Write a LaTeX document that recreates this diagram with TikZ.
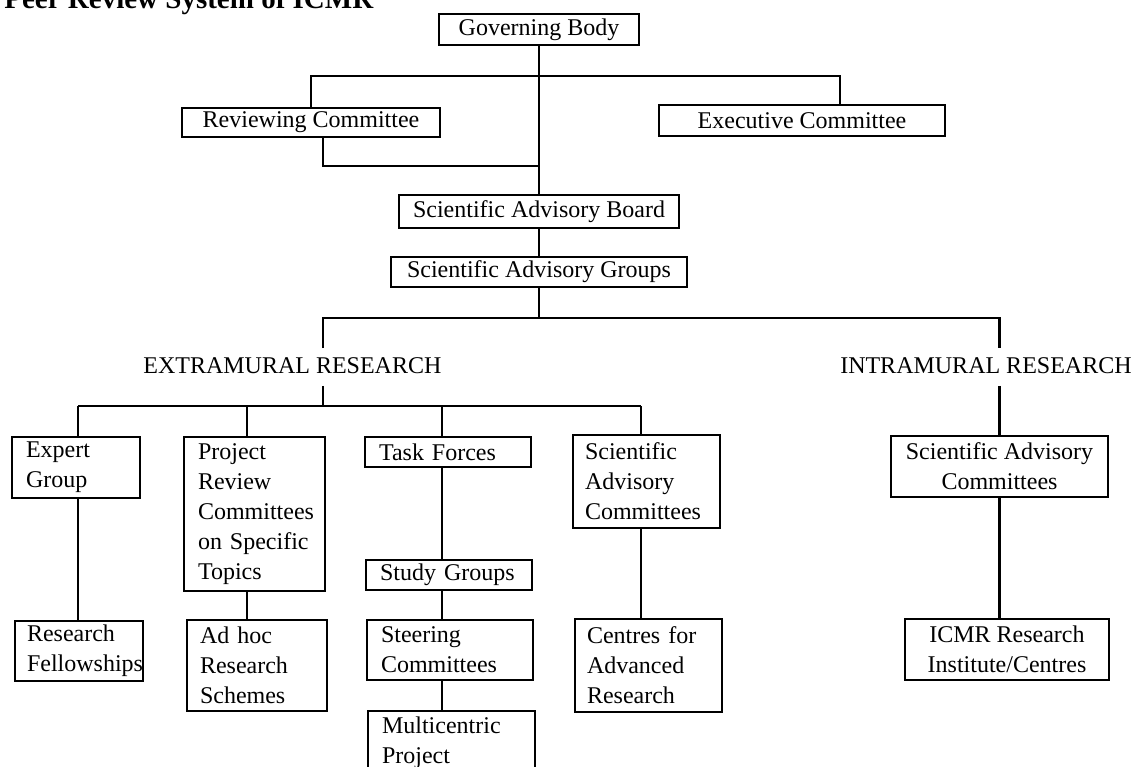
\documentclass[tikz,border=0pt]{standalone}
\usepackage{fontspec}
\setmainfont{Liberation Serif}
\begin{document}
\begin{tikzpicture}[x=0.5pt,y=-0.5pt]
\tikzset{
  box/.style={draw, line width=1pt, inner xsep=7pt, inner ysep=0pt, font=\fontsize{12}{15}\selectfont},
  lbox/.style={box, align=left},
  cbox/.style={box, align=center},
  link/.style={line width=1.3pt},
  lab/.style={inner xsep=0pt, inner ysep=3.75pt, text height=8.5pt, text depth=2.5pt, font=\fontsize{12}{15}\selectfont},
  ttl/.style={inner sep=0pt, font=\bfseries\fontsize{14.5}{17}\selectfont}
}
\useasboundingbox (0,0) rectangle (1134,766);
\fill[white] (0,0) rectangle (1134,766);

% title
\node[ttl, anchor=base west] (title) at (4,8) {Peer Review System of ICMR};

% top level
\node[cbox, minimum width=100pt, minimum height=15.5pt] (gov) at (539,29.5) {Governing Body};
\node[cbox, minimum width=129pt, minimum height=14.5pt] (rev) at (311,122.5) {Reviewing Committee};
\node[cbox, minimum width=143pt, minimum height=15.5pt] (exec) at (802,120.5) {Executive Committee};
\node[cbox, minimum width=130pt, minimum height=16.5pt] (board) at (539,211.5) {Scientific Advisory Board};
\node[cbox, minimum width=148pt, minimum height=15pt] (groups) at (539,272) {Scientific Advisory Groups};

% branch labels
\node[lab, anchor=west] (ext) at (143,367) {EXTRAMURAL RESEARCH};
\node[lab, anchor=east] (intr) at (1132,367) {INTRAMURAL RESEARCH};

% extramural boxes
\node[lbox, text width=50pt, minimum height=30.5pt] (expert) at (76,467.5) {Expert\\Group};
\node[lbox, text width=56.5pt, minimum height=77pt] (project) at (254.5,514) {Project\\Review\\Committees\\on Specific\\Topics};
\node[lbox, text width=69pt, minimum height=15pt] (task) at (448,452) {Task Forces};
\node[lbox, text width=61.5pt, inner xsep=6pt, minimum height=46.5pt] (sacl) at (646.5,481.5) {Scientific\\Advisory\\Committees};

\node[lbox, text width=52pt, inner xsep=6pt, minimum height=30pt] (rf) at (79,650.5) {Research\\Fellowships};
\node[lbox, text width=57pt, inner xsep=6.5pt, minimum height=45.5pt] (adhoc) at (257,665.5) {Ad hoc\\Research\\Schemes};
\node[lbox, text width=69pt, minimum height=15pt] (study) at (449,575) {Study Groups};
\node[lbox, text width=69pt, minimum height=30pt] (steer) at (450,650) {Steering\\Committees};
\node[lbox, text width=69.5pt, inner ysep=3pt, anchor=north] (multi) at (451.5,710) {Multicentric\\Project\\\strut};
\node[lbox, text width=61.5pt, inner xsep=6pt, minimum height=46.5pt] (centres) at (648.5,665.5) {Centres for\\Advanced\\Research};

% intramural boxes
\node[cbox, minimum width=108.5pt, minimum height=30.5pt] (sacr) at (999.5,466.5) {Scientific Advisory\\Committees};
\node[cbox, minimum width=102pt, minimum height=30.5pt] (icmr) at (1007,649.5) {ICMR Research\\Institute/Centres};

% coordinates for bends
\coordinate (hL) at (311,76);
\coordinate (hR) at (840,76);
\coordinate (rb) at (323,166);
\coordinate (m2) at (539,166);
\coordinate (m3) at (539,318);
\coordinate (eL) at (323,318);
\coordinate (iR) at (999.5,318);
\coordinate (sh) at (323,406);
\coordinate (d1) at (78,406);
\coordinate (d2) at (247,406);
\coordinate (d3) at (442,406);
\coordinate (d4) at (641,406);

% connectors
\draw[link] (gov.south) -- (board.north);
\draw[link] (board.south) -- (groups.north);
\draw[link] (groups.south) -- (m3);
\draw[link] (rev.north) -- (hL) -- (hR) -- (hR |- exec.north);
\draw[link] (rb |- rev.south) -- (rb) -- (m2);
\draw[link] (eL |- ext.north) -- (eL) -- (iR) -- (iR |- intr.north);
\draw[link] (eL |- ext.south) -- (sh);
\draw[link] (iR |- intr.south) -- (sacr.north);
\draw[link] (d1) -- (d4);
\draw[link] (d1) -- (d1 |- expert.north);
\draw[link] (d2) -- (d2 |- project.north);
\draw[link] (d3) -- (d3 |- task.north);
\draw[link] (d4) -- (d4 |- sacl.north);
\draw[link] (d1 |- expert.south) -- (d1 |- rf.north);
\draw[link] (d2 |- project.south) -- (d2 |- adhoc.north);
\draw[link] (d3 |- task.south) -- (d3 |- study.north);
\draw[link] (d3 |- study.south) -- (d3 |- steer.north);
\draw[link] (d3 |- steer.south) -- (d3 |- multi.north);
\draw[link] (d4 |- sacl.south) -- (d4 |- centres.north);
\draw[link] (sacr.south) -- (sacr.south |- icmr.north);
\end{tikzpicture}
\end{document}
